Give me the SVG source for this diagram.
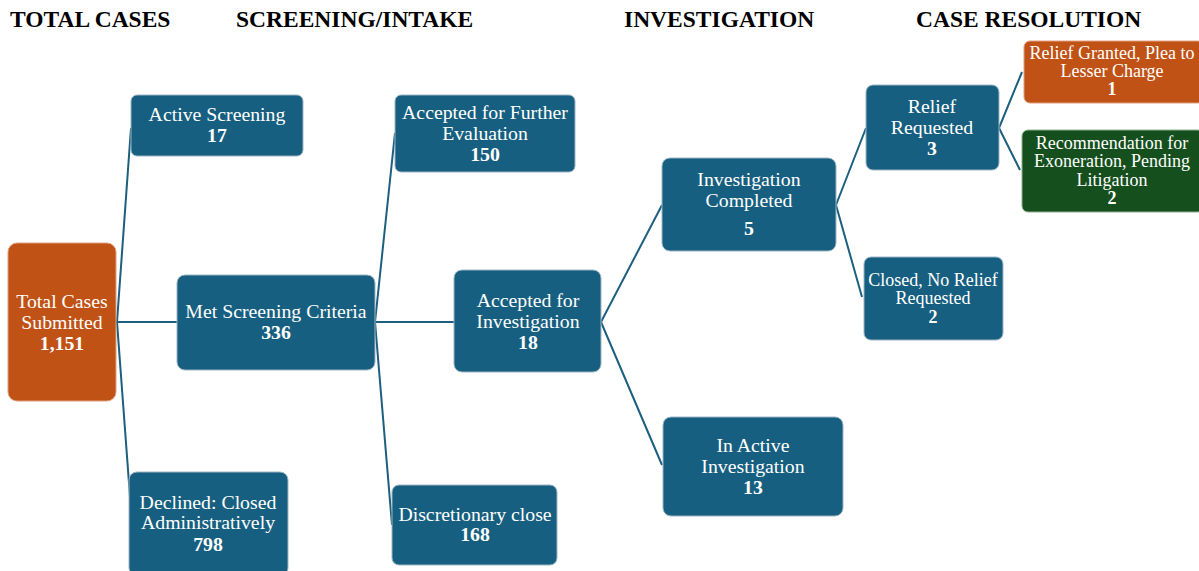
<svg xmlns="http://www.w3.org/2000/svg" width="1199" height="571" viewBox="0 0 1199 571">
<style>
.hd{font-family:"Liberation Serif","Times New Roman",serif;font-weight:bold;font-size:23.5px;fill:#000}
.b{fill:#175F80;stroke:#9DB6C4;stroke-width:1}
.o{fill:#C05216;stroke:#E0A080;stroke-width:1}
.g{fill:#164F1E;stroke:#8FB090;stroke-width:1}
.t{font-family:"Liberation Serif","Times New Roman",serif;font-size:19.8px;fill:#fff;text-anchor:middle}
.s{font-size:18px}
.n{font-weight:bold}
.c{fill:none;stroke:#1D5F7E;stroke-width:2}
</style>
<rect width="1199" height="571" fill="#fff"/>
<g id="headers">
<text class="hd" x="10" y="27">TOTAL CASES</text>
<text class="hd" x="236" y="27">SCREENING/INTAKE</text>
<text class="hd" x="624" y="27">INVESTIGATION</text>
<text class="hd" x="916" y="27">CASE RESOLUTION</text>
</g>
<g id="connectors">
<path class="c" d="M117,322 L131,128 M117,322 L177,322 M117,322 L131,510"/>
<path class="c" d="M375,322 L395,133 M375,322 L454,322 M375,322 L392,525"/>
<path class="c" d="M601,322 L662,205 M601,322 L662,465"/>
<path class="c" d="M836,205 L866,128 M836,205 L862,297"/>
<path class="c" d="M999,128 L1022,72 M999,128 L1020,170"/>
</g>
<g id="total">
<rect class="o" x="8" y="243" width="108" height="158" rx="9"/>
<text class="t" x="62" y="308">Total Cases</text>
<text class="t" x="62" y="329">Submitted</text>
<text class="t n" x="62" y="350">1,151</text>
</g>
<g id="active-screening">
<rect class="b" x="131" y="95" width="172" height="61" rx="6"/>
<text class="t" x="217" y="121">Active Screening</text>
<text class="t n" x="217" y="142">17</text>
</g>
<g id="met-screening">
<rect class="b" x="177" y="275" width="198" height="95" rx="8"/>
<text class="t" x="276" y="318">Met Screening Criteria</text>
<text class="t n" x="276" y="339">336</text>
</g>
<g id="declined">
<rect class="b" x="129" y="472" width="159" height="104" rx="8"/>
<text class="t" x="208" y="509">Declined: Closed</text>
<text class="t" x="208" y="529">Administratively</text>
<text class="t n" x="208" y="551">798</text>
</g>
<g id="further-eval">
<rect class="b" x="395" y="95" width="180" height="77" rx="6"/>
<text class="t" x="485" y="119">Accepted for Further</text>
<text class="t" x="485" y="140">Evaluation</text>
<text class="t n" x="485" y="161">150</text>
</g>
<g id="accepted-investigation">
<rect class="b" x="454" y="270" width="147" height="102" rx="8"/>
<text class="t" x="528" y="307">Accepted for</text>
<text class="t" x="528" y="328">Investigation</text>
<text class="t n" x="528" y="349">18</text>
</g>
<g id="discretionary">
<rect class="b" x="392" y="485" width="165" height="80" rx="7"/>
<text class="t" x="475" y="521">Discretionary close</text>
<text class="t n" x="475" y="541">168</text>
</g>
<g id="investigation-completed">
<rect class="b" x="662" y="158" width="174" height="93" rx="8"/>
<text class="t" x="749" y="186">Investigation</text>
<text class="t" x="749" y="207">Completed</text>
<text class="t n" x="749" y="235">5</text>
</g>
<g id="active-investigation">
<rect class="b" x="663" y="417" width="180" height="99" rx="8"/>
<text class="t" x="753" y="452">In Active</text>
<text class="t" x="753" y="473">Investigation</text>
<text class="t n" x="753" y="494">13</text>
</g>
<g id="relief-requested">
<rect class="b" x="866" y="85" width="133" height="85" rx="7"/>
<text class="t" x="932" y="113">Relief</text>
<text class="t" x="932" y="134">Requested</text>
<text class="t n" x="932" y="155">3</text>
</g>
<g id="closed-no-relief">
<rect class="b" x="864" y="257" width="139" height="83" rx="7"/>
<text class="t s" x="933" y="286">Closed, No Relief</text>
<text class="t s" x="933" y="304">Requested</text>
<text class="t s n" x="933" y="323">2</text>
</g>
<g id="relief-granted">
<rect class="o" x="1024" y="41" width="180" height="62" rx="6"/>
<text class="t s" x="1112" y="59">Relief Granted, Plea to</text>
<text class="t s" x="1112" y="77">Lesser Charge</text>
<text class="t s n" x="1112" y="95">1</text>
</g>
<g id="recommendation">
<rect class="g" x="1022" y="130" width="182" height="82" rx="6"/>
<text class="t s" x="1112" y="149">Recommendation for</text>
<text class="t s" x="1112" y="167">Exoneration, Pending</text>
<text class="t s" x="1112" y="186">Litigation</text>
<text class="t s n" x="1112" y="204">2</text>
</g>
</svg>
